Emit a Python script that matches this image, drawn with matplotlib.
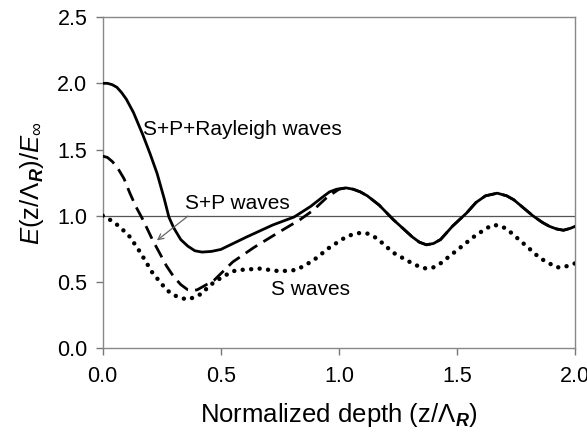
import matplotlib
matplotlib.use('Agg')
import matplotlib.pyplot as plt

plt.rcParams['font.family'] = ['Liberation Sans', 'DejaVu Sans']
plt.rcParams['mathtext.fontset'] = 'custom'
plt.rcParams['mathtext.rm'] = 'Liberation Sans'
plt.rcParams['mathtext.it'] = 'Liberation Sans:italic'
plt.rcParams['mathtext.bf'] = 'Liberation Sans:bold:italic'

# S+P+Rayleigh waves (solid)
x_spr = [0.0, 0.02, 0.04, 0.06, 0.08, 0.10, 0.13, 0.17, 0.20, 0.23, 0.26, 0.28,
         0.30, 0.33, 0.36, 0.39, 0.42, 0.46, 0.50, 0.61, 0.72, 0.81, 0.88, 0.93,
         0.96, 0.99, 1.03, 1.06, 1.09, 1.12, 1.17, 1.23, 1.31, 1.34, 1.37, 1.40,
         1.43, 1.48, 1.54, 1.58, 1.62, 1.67, 1.71, 1.74, 1.82, 1.86, 1.89, 1.92,
         1.95, 1.98, 2.0]
y_spr = [2.0, 2.0, 1.99, 1.97, 1.93, 1.88, 1.78, 1.61, 1.47, 1.32, 1.13, 0.99,
         0.91, 0.82, 0.77, 0.735, 0.725, 0.73, 0.745, 0.84, 0.93, 0.99, 1.07, 1.14,
         1.18, 1.20, 1.21, 1.20, 1.18, 1.15, 1.08, 0.97, 0.84, 0.80, 0.78, 0.79,
         0.82, 0.92, 1.02, 1.10, 1.15, 1.17, 1.15, 1.12, 1.00, 0.95, 0.92, 0.90,
         0.89, 0.905, 0.92]

# S+P waves (dashed)
x_sp = [0.0, 0.02, 0.04, 0.06, 0.09, 0.115, 0.14, 0.17, 0.21, 0.24, 0.27, 0.30,
        0.33, 0.36, 0.38, 0.40, 0.42, 0.47, 0.55, 0.64, 0.75, 0.835, 0.89, 0.95,
        1.0, 1.03, 1.06, 1.09, 1.12, 1.17, 1.23, 1.31, 1.34, 1.37, 1.40, 1.43,
        1.48, 1.54, 1.58, 1.62, 1.67, 1.71, 1.74, 1.82, 1.86, 1.89, 1.92, 1.95,
        1.98, 2.0]
y_sp = [1.45, 1.44, 1.41, 1.37, 1.28, 1.17, 1.07, 0.97, 0.82, 0.72, 0.62, 0.54,
        0.48, 0.44, 0.435, 0.44, 0.46, 0.51, 0.65, 0.76, 0.88, 0.97, 1.04, 1.14,
        1.20, 1.21, 1.20, 1.18, 1.15, 1.08, 0.97, 0.84, 0.80, 0.78, 0.79, 0.82,
        0.92, 1.02, 1.10, 1.15, 1.17, 1.15, 1.12, 1.00, 0.95, 0.92, 0.90, 0.89,
        0.905, 0.92]

# S waves (dotted)
x_s = [0.0, 0.03, 0.07, 0.115, 0.16, 0.21, 0.27, 0.30, 0.33, 0.35, 0.37, 0.39,
       0.42, 0.45, 0.50, 0.55, 0.58, 0.665, 0.75, 0.82, 0.89, 0.96, 1.03, 1.06,
       1.09, 1.12, 1.16, 1.23, 1.31, 1.34, 1.37, 1.40, 1.43, 1.50, 1.57, 1.62,
       1.65, 1.68, 1.71, 1.80, 1.85, 1.89, 1.92, 1.95, 1.99, 2.0]
y_s = [1.0, 0.97, 0.92, 0.84, 0.72, 0.57, 0.44, 0.40, 0.38, 0.37, 0.37, 0.39,
       0.41, 0.47, 0.53, 0.58, 0.59, 0.60, 0.58, 0.59, 0.66, 0.76, 0.84, 0.86,
       0.87, 0.865, 0.83, 0.72, 0.64, 0.615, 0.60, 0.61, 0.64, 0.74, 0.84, 0.90,
       0.93, 0.925, 0.90, 0.76, 0.68, 0.64, 0.61, 0.61, 0.635, 0.64]

x_ticks = [0.0, 0.5, 1.0, 1.5, 2.0]
y_ticks = [0.0, 0.5, 1.0, 1.5, 2.0, 2.5]

fig = plt.figure(figsize=(5.87, 4.40), dpi=100)
ax = fig.add_axes([0.175, 0.209, 0.805, 0.752])

ax.axhline(1.0, color='#555555', linewidth=0.9, zorder=1)
ax.plot(x_spr, y_spr, '-', color='black', linewidth=2, zorder=3)
ax.plot(x_sp, y_sp, color='black', linewidth=2, linestyle=(0, (5, 2.6)), zorder=3)
ax.plot(x_s, y_s, color='black', linewidth=3.2, linestyle=(0, (0.01, 1.9)),
        dash_capstyle='round', zorder=3)

ax.text(0.17, 1.65, 'S+P+Rayleigh waves', fontsize=15, va='center', ha='left')
ax.text(0.35, 1.09, 'S+P waves', fontsize=15, va='center', ha='left')
ax.text(0.714, 0.44, 'S waves', fontsize=15, va='center', ha='left')
ax.annotate('', xy=(0.22, 0.80), xytext=(0.37, 1.01),
            arrowprops=dict(arrowstyle='->', color='#666666', lw=0.9))

ax.set_xlim(0, 2.0)
ax.set_ylim(0, 2.5)
ax.set_xticks(x_ticks)
ax.set_yticks(y_ticks)
ax.set_xticklabels([f'{t:.1f}' for t in x_ticks])
ax.set_yticklabels([f'{t:.1f}' for t in y_ticks])
ax.tick_params(direction='out', length=5, width=1, color='#777777',
               labelsize=15.5, pad=6)
ax.tick_params(axis='x', pad=8)
for s in ax.spines.values():
    s.set_color('#888888')
    s.set_linewidth(1.0)

ax.set_xlabel(r'Normalized depth (z/$\mathit{\Lambda}_\mathbf{R}$)', fontsize=18.5, labelpad=10)
ax.set_ylabel(r'$E$(z/$\mathit{\Lambda}_\mathbf{R}$)/$E_\infty$', fontsize=18.5, labelpad=8)

fig.savefig('out.png', dpi=100)
